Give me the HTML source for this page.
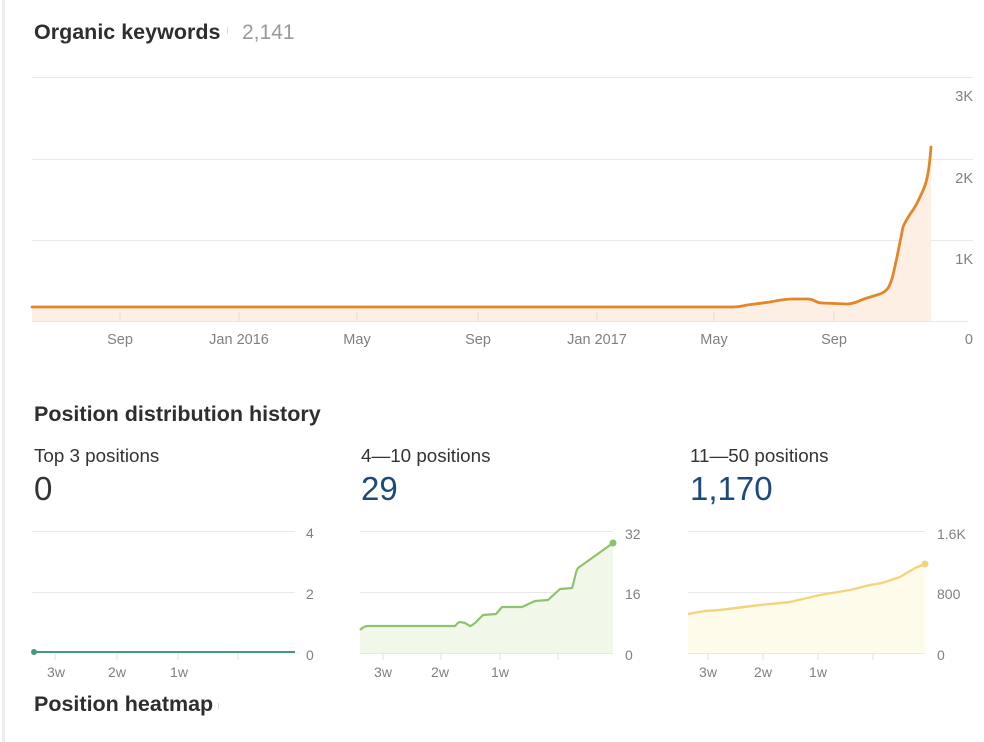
<!DOCTYPE html>
<html><head><meta charset="utf-8"><style>
html,body{margin:0;padding:0;background:#fff;}
body{width:984px;height:742px;overflow:hidden;}
svg{display:block;font-family:"Liberation Sans",Arial,sans-serif;}
</style></head><body>
<svg width="984" height="742" viewBox="0 0 984 742" xmlns="http://www.w3.org/2000/svg">
<rect x="0" y="0" width="984" height="742" fill="#fff"/>
<rect x="2" y="0" width="3" height="742" fill="#eeeeee"/>

<!-- Title -->
<text x="34" y="39" font-size="21.5" font-weight="bold" fill="#2e2e2e">Organic keywords</text>
<rect x="227" y="27" width="1" height="7" fill="#d8d8d8"/>
<text x="242" y="39" font-size="21" fill="#999">2,141</text>

<!-- Main chart gridlines -->
<g stroke="#e8e8e8" stroke-width="1">
<line x1="32" y1="77.5" x2="973" y2="77.5"/>
<line x1="32" y1="159.5" x2="973" y2="159.5"/>
<line x1="32" y1="240.5" x2="973" y2="240.5"/>
<line x1="32" y1="321.5" x2="968" y2="321.5"/>
</g>
<!-- fill -->
<path d="M32,307 L733,307 C740,307 742,306 747,305 L770,302 C780,300 786,299 793,299 L808,299 C815,299 815,303 822,303 L847,304 C855,304 860,300 867,298 L880,294 C888,291 890,286 893,275 L897,257 L903,227 C906,220 910,214 913,210 C917,204 918,201 920,197 C924,189 926,184 927,178 C929,170 930,160 931,147 L931,321 L32,321 Z" fill="#fdefe4"/>
<!-- ticks -->
<g stroke="#e6dcd4" stroke-width="1">
<line x1="120" y1="312" x2="120" y2="321"/>
<line x1="239" y1="312" x2="239" y2="321"/>
<line x1="357" y1="312" x2="357" y2="321"/>
<line x1="478" y1="312" x2="478" y2="321"/>
<line x1="597" y1="312" x2="597" y2="321"/>
<line x1="714" y1="312" x2="714" y2="321"/>
<line x1="834" y1="312" x2="834" y2="321"/>
</g>
<path d="M32,307 L733,307 C740,307 742,306 747,305 L770,302 C780,300 786,299 793,299 L808,299 C815,299 815,303 822,303 L847,304 C855,304 860,300 867,298 L880,294 C888,291 890,286 893,275 L897,257 L903,227 C906,220 910,214 913,210 C917,204 918,201 920,197 C924,189 926,184 927,178 C929,170 930,160 931,147" fill="none" stroke="#e3862a" stroke-width="2.8" stroke-linejoin="round" stroke-linecap="round"/>

<g font-size="14.5" fill="#808080" text-anchor="middle">
<text x="120" y="344">Sep</text>
<text x="239" y="344">Jan 2016</text>
<text x="357" y="344">May</text>
<text x="478" y="344">Sep</text>
<text x="597" y="344">Jan 2017</text>
<text x="714" y="344">May</text>
<text x="834" y="344">Sep</text>
</g>
<g font-size="14.5" fill="#808080" text-anchor="end">
<text x="973" y="101">3K</text>
<text x="973" y="183">2K</text>
<text x="973" y="264">1K</text>
<text x="973" y="344">0</text>
</g>

<!-- Position distribution -->
<text x="34" y="421" font-size="21.5" font-weight="bold" fill="#2e2e2e">Position distribution history</text>

<text x="34" y="462" font-size="18.8" fill="#333">Top 3 positions</text>
<text x="34" y="500" font-size="33" fill="#333">0</text>
<text x="361" y="462" font-size="18.8" fill="#333">4—10 positions</text>
<text x="361" y="500" font-size="33" fill="#1d4a7a">29</text>
<text x="690" y="462" font-size="18.8" fill="#333">11—50 positions</text>
<text x="690" y="500" font-size="33" fill="#1d4a7a">1,170</text>

<!-- gridlines small charts -->
<g stroke="#e8e8e8" stroke-width="1">
<line x1="32" y1="531.5" x2="295" y2="531.5"/>
<line x1="32" y1="592.5" x2="295" y2="592.5"/>
<line x1="360" y1="531.5" x2="613" y2="531.5"/>
<line x1="360" y1="592.5" x2="613" y2="592.5"/>
<line x1="360" y1="653.5" x2="613" y2="653.5"/>
<line x1="688" y1="531.5" x2="925" y2="531.5"/>
<line x1="688" y1="592.5" x2="925" y2="592.5"/>
<line x1="688" y1="653.5" x2="925" y2="653.5"/>
</g>
<g stroke="#e2e2e2" stroke-width="1">
<line x1="55" y1="653" x2="55" y2="660"/>
<line x1="117" y1="653" x2="117" y2="660"/>
<line x1="178" y1="653" x2="178" y2="660"/>
<line x1="238" y1="653" x2="238" y2="660"/>
<line x1="383" y1="653" x2="383" y2="660"/>
<line x1="441" y1="653" x2="441" y2="660"/>
<line x1="500" y1="653" x2="500" y2="660"/>
<line x1="558" y1="653" x2="558" y2="660"/>
<line x1="708" y1="653" x2="708" y2="660"/>
<line x1="763" y1="653" x2="763" y2="660"/>
<line x1="818" y1="653" x2="818" y2="660"/>
<line x1="873" y1="653" x2="873" y2="660"/>
</g>
<!-- Chart 1 -->
<line x1="33" y1="652" x2="295" y2="652" stroke="#3f9c7a" stroke-width="2"/>
<circle cx="34" cy="652" r="3" fill="#3f9c7a"/>

<!-- Chart 2 -->
<path d="M360,630 L368,626 L455,626 L460,622 L465,623 L470,626 L475,623 L483,615 L496,614 L502,607 L522,607 L535,601 L548,600 L560,589 L572,588 L578,568 L585,563 L613,543 L613,653 L360,653 Z" fill="#f1f8ea"/>
<path d="M360,630 C363,627 365,626 368,626 L455,626 C457,624 458,622 460,622 L465,623 L470,626 C472,626 473,624 475,623 L483,615 L496,614 L502,607 L522,607 L535,601 L548,600 L560,589 L572,588 C575,580 575,572 578,568 L585,563 L613,543" fill="none" stroke="#8fc26c" stroke-width="2.2" stroke-linejoin="round"/>
<circle cx="613" cy="543" r="3.5" fill="#8fc26c"/>

<!-- Chart 3 -->
<path d="M688,614 L705,611 L720,610 L760,605 L790,602 L820,595 L850,590 L870,585 L882,583 L900,577 L915,568 L925,564 L925,653 L688,653 Z" fill="#fffbea"/>
<path d="M688,614 L705,611 L720,610 L760,605 L790,602 L820,595 L850,590 L870,585 L882,583 L900,577 L915,568 L925,564" fill="none" stroke="#f2d47c" stroke-width="2.4" stroke-linejoin="round"/>
<circle cx="925" cy="564" r="3.5" fill="#f2d47c"/>

<g font-size="14" fill="#808080">
<text x="306" y="538">4</text>
<text x="306" y="599">2</text>
<text x="306" y="660">0</text>
<text x="625" y="539">32</text>
<text x="625" y="599">16</text>
<text x="625" y="660">0</text>
<text x="937" y="539">1.6K</text>
<text x="937" y="599">800</text>
<text x="937" y="660">0</text>
</g>
<g font-size="14" fill="#808080" text-anchor="middle">
<text x="56" y="677">3w</text>
<text x="117" y="677">2w</text>
<text x="179" y="677">1w</text>
<text x="383" y="677">3w</text>
<text x="440" y="677">2w</text>
<text x="500" y="677">1w</text>
<text x="708" y="677">3w</text>
<text x="763" y="677">2w</text>
<text x="818" y="677">1w</text>
</g>

<text x="34" y="711" font-size="21.5" font-weight="bold" fill="#2e2e2e">Position heatmap</text>
<rect x="218" y="703" width="1" height="6" fill="#d8d8d8"/>
</svg>
</body></html>
